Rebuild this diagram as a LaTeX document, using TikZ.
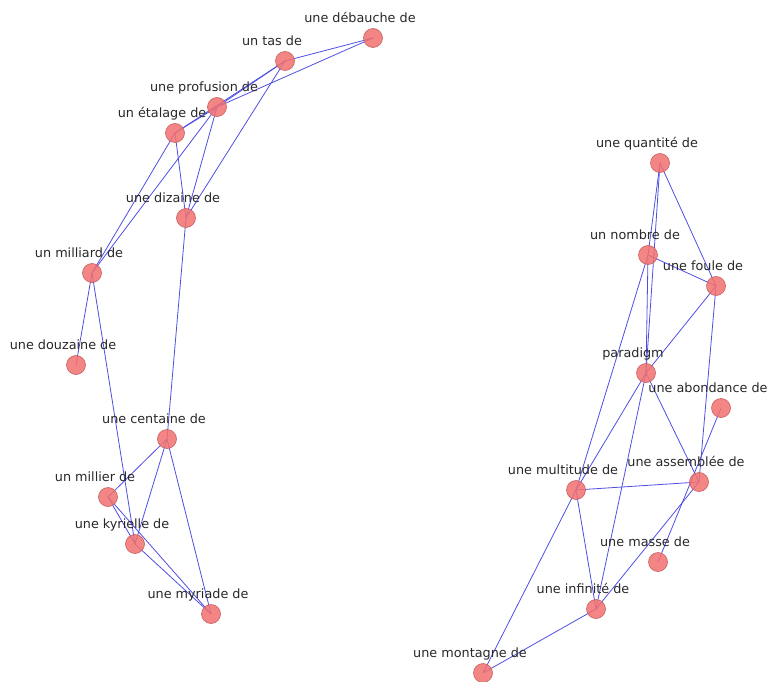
\documentclass[tikz,border=0pt]{standalone}
\usepackage{fontspec}
\setmainfont{DejaVu Sans}
\usetikzlibrary{backgrounds}

\definecolor{vtxfill}{RGB}{242,112,112}
\definecolor{vtxline}{RGB}{196,96,96}
\definecolor{edgeblue}{RGB}{78,78,228}
\definecolor{wordgray}{RGB}{40,40,40}

\begin{document}
\begin{tikzpicture}[
    x=1pt, y=-1pt,
    label distance=5.5pt,
    vtx/.style={circle, draw=vtxline, fill=vtxfill, fill opacity=0.85,
                line width=0.6pt, minimum size=19pt, inner sep=0pt},
    lbl/.style={anchor=base, xshift=-13pt, text=wordgray, text opacity=1,
                font=\fontsize{12.8}{15}\selectfont},
    word/.style={vtx, label={[lbl]90:#1}},
    link/.style={edgeblue, line width=0.8pt},
]
  \useasboundingbox (0, 0) rectangle (771, 682);

  % left component
  \node[word={une débauche de}] (debauche) at (373, 38) {};
  \node[word={un tas de}] (tas) at (285, 61) {};
  \node[word={une profusion de}] (profusion) at (217, 107) {};
  \node[word={un étalage de}] (etalage) at (175, 133) {};
  \node[word={une dizaine de}] (dizaine) at (186, 218) {};
  \node[word={un milliard de}] (milliard) at (92, 273) {};
  \node[word={une douzaine de}] (douzaine) at (76, 365) {};
  \node[word={une centaine de}] (centaine) at (167, 439) {};
  \node[word={un millier de}] (millier) at (108, 497) {};
  \node[word={une kyrielle de}] (kyrielle) at (135, 544) {};
  \node[word={une myriade de}] (myriade) at (211, 614) {};

  % right component
  \node[word={une quantité de}] (quantite) at (660, 163) {};
  \node[word={un nombre de}] (nombre) at (648, 255) {};
  \node[word={une foule de}] (foule) at (716, 286) {};
  \node[word={paradigm}] (paradigm) at (646, 373) {};
  \node[word={une abondance de}] (abondance) at (721, 408) {};
  \node[word={une multitude de}] (multitude) at (576, 490) {};
  \node[word={une assemblée de}] (assemblee) at (699, 482) {};
  \node[word={une masse de}] (masse) at (658, 562) {};
  \node[word={une infinité de}] (infinite) at (596, 609) {};
  \node[word={une montagne de}] (montagne) at (483, 673) {};

  \begin{scope}[on background layer]
    \foreach \i/\j in {debauche/tas, debauche/profusion, tas/profusion,
        tas/etalage, tas/dizaine, profusion/etalage, profusion/dizaine,
        profusion/milliard, etalage/dizaine, etalage/milliard,
        dizaine/centaine, milliard/douzaine, milliard/kyrielle,
        centaine/millier, centaine/kyrielle, centaine/myriade,
        millier/kyrielle, millier/myriade, kyrielle/myriade}
      \draw[link] (\i.center) -- (\j.center);

    \foreach \i/\j in {quantite/nombre, quantite/paradigm, quantite/foule,
        nombre/foule, nombre/paradigm, nombre/multitude, foule/paradigm,
        foule/assemblee, paradigm/multitude, paradigm/infinite,
        paradigm/assemblee, abondance/masse, multitude/assemblee,
        multitude/infinite, multitude/montagne, assemblee/infinite,
        infinite/montagne}
      \draw[link] (\i.center) -- (\j.center);
  \end{scope}
\end{tikzpicture}
\end{document}
